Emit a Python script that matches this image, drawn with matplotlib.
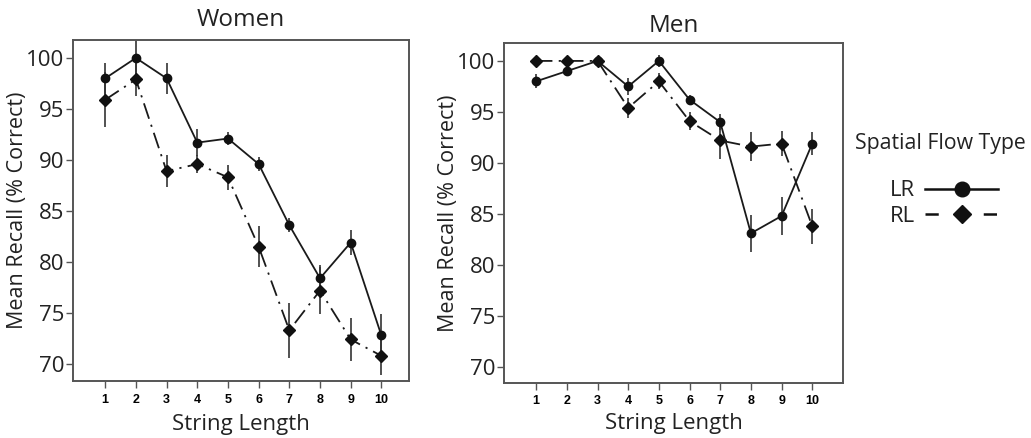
import numpy as np
import matplotlib
matplotlib.use('Agg')
import matplotlib.pyplot as plt
from matplotlib.lines import Line2D

plt.rcParams['font.family'] = ['Open Sans', 'DejaVu Sans']

# 数据
lengths = [1, 2, 3, 4, 5, 6, 7, 8, 9, 10]
women_lr = [98.0, 100.0, 98.0, 91.7, 92.1, 89.6, 83.6, 78.4, 81.9, 72.8]
women_lr_err = [1.5, 1.8, 1.5, 1.3, 0.6, 0.7, 0.7, 1.3, 1.2, 2.1]
women_rl = [95.9, 97.9, 88.9, 89.6, 88.3, 81.5, 73.3, 77.2, 72.4, 70.8]
women_rl_err = [2.7, 1.6, 1.6, 0.9, 1.2, 2.0, 2.7, 2.3, 2.1, 1.9]
men_lr = [98.0, 99.0, 100.0, 97.5, 100.0, 96.2, 94.0, 83.1, 84.8, 91.9]
men_lr_err = [0.7, 0.5, 0.5, 0.8, 0.6, 0.5, 0.8, 1.8, 1.9, 1.1]
men_rl = [100.0, 100.0, 100.0, 95.4, 98.0, 94.1, 92.2, 91.6, 91.9, 83.8]
men_rl_err = [0.5, 0.3, 0.5, 1.0, 0.8, 0.9, 1.8, 1.4, 1.2, 1.7]
yticks = [70, 75, 80, 85, 90, 95, 100]

fig = plt.figure(figsize=(10.31, 4.38), dpi=100)
ax1 = fig.add_axes([0.0708, 0.1301, 0.3259, 0.7786])
ax2 = fig.add_axes([0.4888, 0.1256, 0.3288, 0.7763])

dashdot = (0, (9, 3.5, 1.2, 3.5))
txt = '#222222'

def draw(ax, lr, lr_err, rl, rl_err, title, ylim, xlim, tpad, xpad):
    ax.errorbar(lengths, lr, yerr=lr_err, fmt='none', ecolor='#333333', elinewidth=1.2, capsize=0)
    ax.errorbar(lengths, rl, yerr=rl_err, fmt='none', ecolor='#333333', elinewidth=1.2, capsize=0)
    ax.plot(lengths, rl, color='#1a1a1a', lw=1.3, linestyle=dashdot, marker='D', markersize=6,
            markerfacecolor='#111111', markeredgecolor='#111111')
    ax.plot(lengths, lr, color='#1a1a1a', lw=1.3, linestyle='-', marker='o', markersize=6,
            markerfacecolor='#111111', markeredgecolor='#111111')
    ax.set_xlim(*xlim)
    ax.set_ylim(*ylim)
    ax.set_xticks(lengths)
    ax.set_xticklabels([str(v) for v in lengths], fontsize=9, fontweight='bold',
                       family=['Liberation Sans', 'DejaVu Sans'])
    ax.set_yticks(yticks)
    ax.set_yticklabels([str(v) for v in yticks], fontsize=16, color=txt)
    ax.tick_params(axis='both', direction='out', length=5, width=1, color='#555555')
    ax.tick_params(axis='y', pad=1)
    ax.tick_params(axis='x', pad=4)
    for s in ax.spines.values():
        s.set_color('#555555')
        s.set_linewidth(1.4)
    ax.set_title(title, fontsize=17.5, color=txt, pad=tpad)
    ax.set_xlabel('String Length', fontsize=16, color=txt, labelpad=xpad)
    ax.set_ylabel('Mean Recall (% Correct)', fontsize=15.5, color=txt)
    w = ax.get_position().width * 1031
    ax.yaxis.set_label_coords(-45.0 / w, 0.5)

draw(ax1, women_lr, women_lr_err, women_rl, women_rl_err, 'Women', (68.33, 101.76), (-0.05, 10.9), 10, 6)
draw(ax2, men_lr, men_lr_err, men_rl, men_rl_err, 'Men', (68.43, 101.76), (-0.05, 11.0), 8, 4)

# 图例
fig.text(0.9125, 1 - 143 / 438, 'Spatial Flow Type', fontsize=15.3, color=txt, ha='center', va='center')
h_lr = Line2D([], [], color='#111111', lw=1.8, linestyle='-', marker='o', markersize=10.5)
h_rl = Line2D([], [], color='#111111', lw=1.8, linestyle=(0, (5.3, 18)), marker='D', markersize=9)
leg = fig.legend([h_lr, h_rl], ['LR', 'RL'], markerfirst=False, frameon=False, loc='center',
                 bbox_to_anchor=(0.9156, 0.535), handlelength=3.3, fontsize=16,
                 labelspacing=0.2, handletextpad=0.45)
for t in leg.get_texts():
    t.set_color(txt)

fig.savefig('out.png', dpi=100)
